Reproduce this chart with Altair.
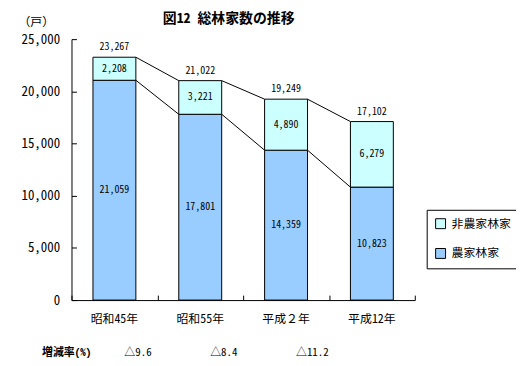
import altair as alt
import pandas as pd

# ---- data ----
categories = ["昭和45年", "昭和55年", "平成２年", "平成12年"]
farm = [21059, 17801, 14359, 10823]        # 農家林家
nonfarm = [2208, 3221, 4890, 6279]         # 非農家林家
totals = [23267, 21022, 19249, 17102]
rates = ["△9.6", "△8.4", "△11.2"]
rate_label = ["増減率(%)"]
series = ["非農家林家", "農家林家"]
colors = ["#CCFFFF", "#99CCFF"]
y_ticks = [0, 5000, 10000, 15000, 20000, 25000]
title_text = ["図12 総林家数の推移"]
unit_text = "（戸）"

F = "Noto Sans Mono CJK JP, Noto Sans CJK JP, DejaVu Sans Mono"

seg = pd.DataFrame({
    "cat": categories * 2,
    "series": [series[1]] * len(categories) + [series[0]] * len(categories),
    "value": farm + nonfarm,
    "order": [0] * len(categories) + [1] * len(categories),
})
tot = pd.DataFrame({"cat": categories, "total": totals})
links = pd.DataFrame({
    "from": categories[:-1] * 2,
    "to": categories[1:] * 2,
    "y1": totals[:-1] + farm[:-1],
    "y2": totals[1:] + farm[1:],
})
rate_df = pd.DataFrame({"cat": categories[:-1], "rate": rates})
rl_df = pd.DataFrame({"t": rate_label})
title_df = pd.DataFrame({"t": title_text})

xscale = alt.Scale(domain=categories, paddingInner=0, paddingOuter=0)
yscale = alt.Scale(domain=[0, 25000], nice=False, zero=True)

main_x = alt.Axis(title=None, ticks=False, domainColor="black", labelFont=F,
                  labelFontSize=12, labelColor="black", labelPadding=14,
                  labelAngle=0, grid=False, orient="bottom")
tick_x = alt.Axis(title=None, labels=False, domain=False, ticks=True,
                  tickBand="extent", tickSize=5, offset=-5, tickColor="black",
                  orient="bottom", grid=False)
main_y = alt.Axis(values=y_ticks, labelExpr="format(datum.value, ',')",
                  ticks=False, domainColor="black",
                  labelFont=F, labelFontSize=13, labelColor="black",
                  labelPadding=12, title=unit_text, titleAngle=0,
                  titleAlign="left", titleBaseline="middle", titleX=-54,
                  titleY=-18, titleFont=F, titleFontSize=12,
                  titleFontWeight="normal", titleColor="black", grid=False,
                  orient="left")
tick_y = alt.Axis(values=y_ticks, labels=False, domain=False, tickSize=5,
                  offset=-5, tickColor="black", title=None, orient="left",
                  grid=False)

rules = alt.Chart(links).mark_rule(color="black", strokeWidth=1).encode(
    x=alt.X("from:N", scale=xscale, bandPosition=0.75, axis=tick_x),
    x2=alt.X2("to", bandPosition=0.25),
    y=alt.Y("y1:Q", scale=yscale, axis=tick_y),
    y2="y2",
)

bars = alt.Chart(seg).mark_bar(stroke="black", strokeWidth=1,
                               width=alt.RelativeBandSize(0.5)).encode(
    x=alt.X("cat:N", scale=xscale, axis=main_x),
    y=alt.Y("value:Q", scale=yscale, stack="zero", axis=main_y),
    color=alt.Color("series:N", scale=alt.Scale(domain=series, range=colors),
                    legend=alt.Legend(title=None, orient="none", legendX=358,
                                      legendY=172, strokeColor="black",
                                      fillColor="white", padding=8,
                                      symbolType="square", symbolSize=100,
                                      symbolStrokeColor="black",
                                      symbolStrokeWidth=1, labelFont=F,
                                      labelFontSize=12, labelColor="black",
                                      rowPadding=16, labelOffset=5)),
    order=alt.Order("order:Q"),
)

seg_text = alt.Chart(seg).transform_stack(
    stack="value", groupby=["cat"], as_=["y0", "y1"],
    sort=[alt.SortField("order", order="ascending")],
).transform_calculate(mid="(datum.y0 + datum.y1) / 2").mark_text(
    font=F, fontSize=10, color="black"
).encode(
    x=alt.X("cat:N", scale=xscale, axis=None),
    y=alt.Y("mid:Q", scale=yscale, axis=None),
    text=alt.Text("value:Q", format=","),
)

tot_text = alt.Chart(tot).mark_text(font=F, fontSize=10, color="black",
                                    dy=-10).encode(
    x=alt.X("cat:N", scale=xscale, axis=None),
    y=alt.Y("total:Q", scale=yscale, axis=None),
    text=alt.Text("total:Q", format=","),
)

rate_text = alt.Chart(rate_df).mark_text(font=F, fontSize=11, color="black",
                                         align="left", dx=10).encode(
    x=alt.X("cat:N", scale=xscale, axis=None),
    y=alt.value(316),
    text="rate:N",
)

rl_text = alt.Chart(rl_df).mark_text(font=F, fontSize=11, color="black",
                                     fontWeight="bold").encode(
    x=alt.value(-5), y=alt.value(316), text="t:N"
)

title_mark = alt.Chart(title_df).mark_text(
    font=F, fontSize=14, color="black", fontWeight="bold", align="left",
    baseline="middle"
).encode(x=alt.value(92), y=alt.value(-20), text="t:N")

chart = alt.layer(rules, bars, seg_text, tot_text, rate_text, rl_text,
                  title_mark).resolve_axis(
    x="independent", y="independent"
).properties(
    width=346, height=263,
    padding={"left": 64, "top": 30, "right": 102, "bottom": 57},
    autosize=alt.AutoSizeParams(type="none"),
).configure_view(stroke=None)

chart.save("out.html", embed_options={"renderer": "svg", "actions": False})
